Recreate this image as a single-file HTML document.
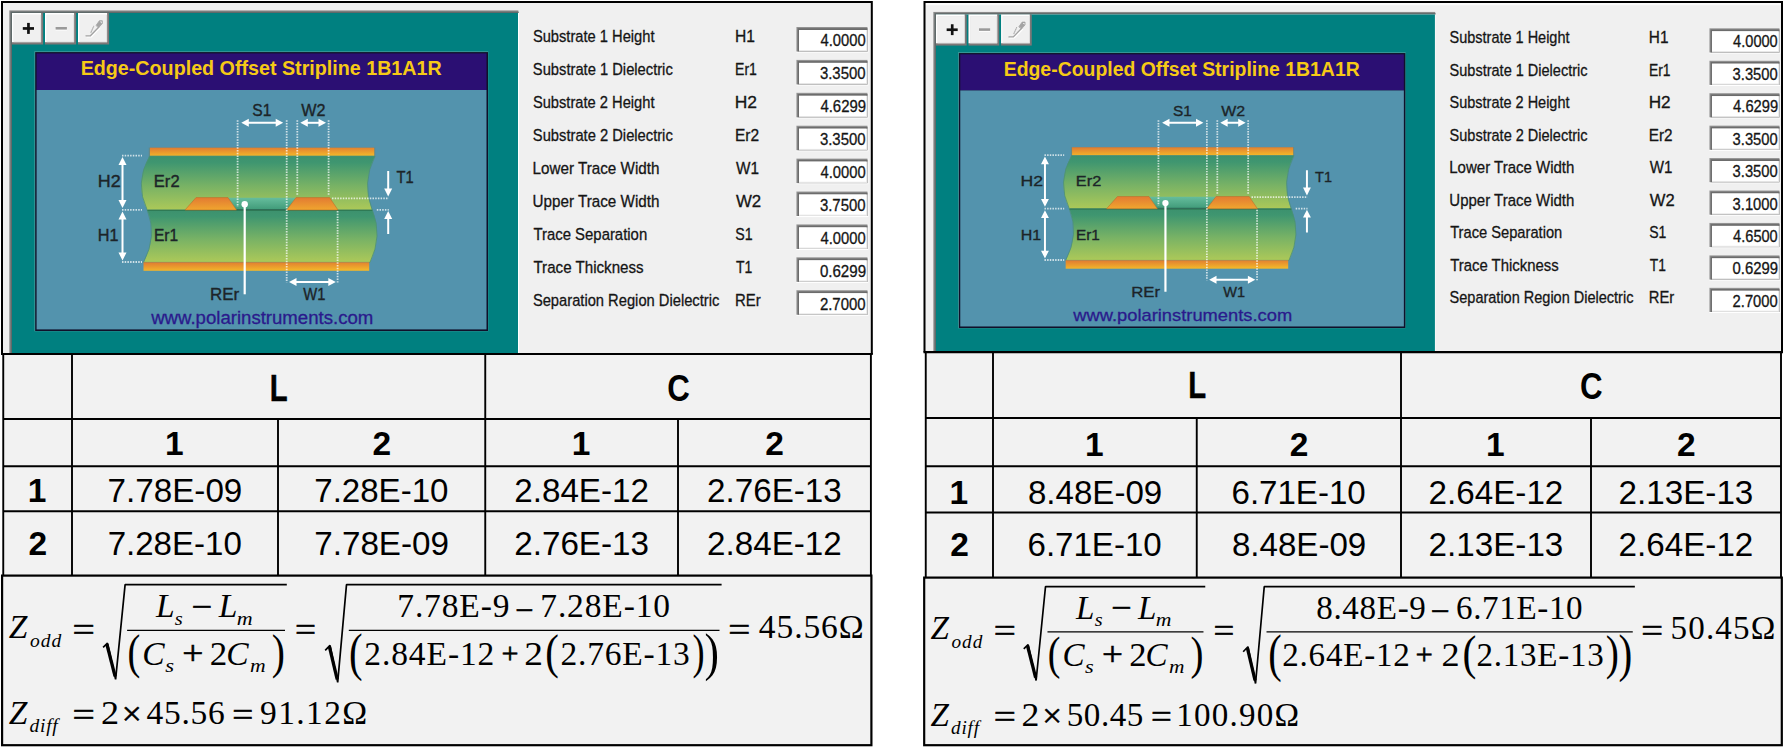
<!DOCTYPE html>
<html><head><meta charset="utf-8"><title>Edge-Coupled Offset Stripline</title>
<style>html,body{margin:0;padding:0;background:#fff}svg{display:block}</style></head><body>
<svg width="1784" height="747" viewBox="0 0 1784 747" font-family="'Liberation Sans', sans-serif">
<rect width="1784" height="747" fill="#fff"/>
<svg x="1" y="1" width="872" height="354" viewBox="1 1 872 354" overflow="hidden">
<rect x="1" y="1" width="872" height="354" fill="#f0f0f0"/>
<rect x="9.3" y="10.4" width="509" height="400" fill="#8a8a8a"/>
<rect x="10.6" y="11.6" width="508" height="400" fill="#5f6a6a"/>
<rect x="12" y="13" width="507" height="400" fill="#ffffff"/>
<rect x="12" y="13" width="506" height="400" fill="#008080"/>
<rect x="12" y="13" width="31.1" height="31.5" fill="#7d7777"/>
<rect x="12" y="13" width="29.1" height="29.2" fill="#ffffff"/>
<rect x="13.7" y="14.8" width="27.4" height="27.4" fill="#d9d9d9"/>
<rect x="13.7" y="14.8" width="26.7" height="26.8" fill="#f0f0f0"/>
<rect x="45" y="13" width="31.1" height="31.5" fill="#7d7777"/>
<rect x="45" y="13" width="29.1" height="29.2" fill="#ffffff"/>
<rect x="46.7" y="14.8" width="27.4" height="27.4" fill="#d9d9d9"/>
<rect x="46.7" y="14.8" width="26.7" height="26.8" fill="#f0f0f0"/>
<rect x="78" y="13" width="31.1" height="31.5" fill="#7d7777"/>
<rect x="78" y="13" width="29.1" height="29.2" fill="#ffffff"/>
<rect x="79.7" y="14.8" width="27.4" height="27.4" fill="#d9d9d9"/>
<rect x="79.7" y="14.8" width="26.7" height="26.8" fill="#f0f0f0"/>
<rect x="22.8" y="27.1" width="11.2" height="2.7" fill="#111"/>
<rect x="27.1" y="22.9" width="2.7" height="11" fill="#111"/>
<rect x="55.6" y="27.9" width="11.3" height="2.6" fill="#ffffff"/>
<rect x="55.6" y="27" width="11.3" height="2.6" fill="#9a9a9a"/>
<g fill="none" stroke-linecap="round"><path d="M86.9 36.8H91.3L99.8 28" stroke="#fff" stroke-width="1.3"/><path d="M86 35.8H90.4L98.9 27" stroke="#a2a2a2" stroke-width="1.3"/><path d="M91 32.4L93.7 26.3" stroke="#a8a8a8" stroke-width="1.1" stroke-dasharray="0.9 1.3"/><path d="M96.2 25.2L99.4 20.7H102.3V23.6L98.8 27.4Z" fill="#a4a4a4" stroke="#a4a4a4" stroke-width="0.8"/><path d="M100 21.6H101.7V23.4Z" fill="#fff" stroke="none"/></g>
<rect x="34.3" y="51.2" width="454" height="280.1" fill="#3f9a9a"/>
<rect x="35.2" y="52.1" width="452.8" height="278.9" fill="#10102a"/>
<rect x="36.6" y="53.4" width="449.9" height="36.6" fill="#2b0f73"/>
<rect x="36.6" y="90" width="449.9" height="239.4" fill="#5393ad"/>
<text x="80.67" y="75.00" font-size="20.2" fill="#f6ca16" font-weight="bold" textLength="361.06" lengthAdjust="spacingAndGlyphs">Edge-Coupled Offset Stripline 1B1A1R</text>
<defs>
<linearGradient id="cua" x1="0" y1="0" x2="0.15" y2="1"><stop offset="0" stop-color="#e07a32"/><stop offset="1" stop-color="#f2b52a"/></linearGradient>
<linearGradient id="tra" x1="0" y1="0" x2="0" y2="1"><stop offset="0" stop-color="#e27a33"/><stop offset="1" stop-color="#f0a62e"/></linearGradient>
<linearGradient id="gra" x1="0" y1="0" x2="0" y2="1"><stop offset="0" stop-color="#3c916e"/><stop offset="0.12" stop-color="#3f9670"/><stop offset="0.55" stop-color="#78b265"/><stop offset="1" stop-color="#adc958"/></linearGradient>
<linearGradient id="rea" x1="0" y1="0" x2="0" y2="1"><stop offset="0" stop-color="#66bd9d"/><stop offset="1" stop-color="#3f9a78"/></linearGradient>
</defs>
<rect x="148.8" y="147.6" width="226.4" height="10" fill="#7d7f60" opacity="0.55"/>
<rect x="150" y="147.7" width="224.2" height="8.5" fill="url(#cua)"/>
<path d="M149.5 156.1 L375 156.1 Q361.5 183 372.3 210.3 L147.3 210.3 Q134.2 183 149.5 156.1Z" fill="url(#gra)" stroke="#4d8f78" stroke-width="0.8"/>
<path d="M147.3 210.3 L372.5 210.3 Q382.8 236 370 262.4 L143.5 262.4 Q157.5 236 147.3 210.3Z" fill="url(#gra)" stroke="#4d8f78" stroke-width="0.8"/>
<line x1="147.5" y1="210.3" x2="372.3" y2="210.3" stroke="#2f7a55" stroke-width="1.2"/>
<path d="M227 197.8 L297 197.8 L286.7 210 L236.3 210Z" fill="url(#rea)"/>
<line x1="236" y1="209.6" x2="287" y2="209.6" stroke="#2f6f58" stroke-width="1.2"/>
<path d="M185 210 L196 197.6 L228 197.6 L236.5 210Z" fill="url(#tra)" stroke="#b9702c" stroke-width="0.6"/>
<path d="M286.6 210 L296 197.6 L329.6 197.6 L338 210Z" fill="url(#tra)" stroke="#b9702c" stroke-width="0.6"/>
<rect x="143.5" y="262.3" width="225.7" height="8.5" fill="url(#cua)"/>
<line x1="237.6" y1="120.3" x2="237.6" y2="207" stroke="#fff" stroke-width="1.8" stroke-dasharray="1.5 1.2" opacity="0.72"/>
<line x1="286.7" y1="120.3" x2="286.7" y2="282.5" stroke="#fff" stroke-width="1.8" stroke-dasharray="1.5 1.2" opacity="0.72"/>
<line x1="297.3" y1="120.3" x2="297.3" y2="195.5" stroke="#fff" stroke-width="1.8" stroke-dasharray="1.5 1.2" opacity="0.72"/>
<line x1="328.6" y1="120.3" x2="328.6" y2="195.5" stroke="#fff" stroke-width="1.8" stroke-dasharray="1.5 1.2" opacity="0.72"/>
<line x1="337.6" y1="211" x2="337.6" y2="282.5" stroke="#fff" stroke-width="1.8" stroke-dasharray="1.5 1.2" opacity="0.72"/>
<line x1="122" y1="155.7" x2="142" y2="155.7" stroke="#fff" stroke-width="1.8" stroke-dasharray="1.5 1.2" opacity="0.72"/>
<line x1="122" y1="209.8" x2="142" y2="209.8" stroke="#fff" stroke-width="1.8" stroke-dasharray="1.5 1.2" opacity="0.72"/>
<line x1="122" y1="262" x2="142" y2="262" stroke="#fff" stroke-width="1.8" stroke-dasharray="1.5 1.2" opacity="0.72"/>
<line x1="332" y1="198.3" x2="388.8" y2="198.3" stroke="#fff" stroke-width="1.8" stroke-dasharray="1.5 1.2" opacity="0.72"/>
<line x1="376.8" y1="209.8" x2="388.8" y2="209.8" stroke="#fff" stroke-width="1.8" stroke-dasharray="1.5 1.2" opacity="0.72"/>
<line x1="245.3" y1="122.8" x2="279.2" y2="122.8" stroke="#fff" stroke-width="2"/>
<path d="M241.3 122.8 l7.5 -4 v8z M283.2 122.8 l-7.5 -4 v8z" fill="#fff"/>
<line x1="304.3" y1="122.8" x2="322" y2="122.8" stroke="#fff" stroke-width="2"/>
<path d="M300.3 122.8 l7.5 -4 v8z M326 122.8 l-7.5 -4 v8z" fill="#fff"/>
<line x1="293" y1="282" x2="331.8" y2="282" stroke="#fff" stroke-width="2"/>
<path d="M289 282 l7.5 -4 v8z M335.8 282 l-7.5 -4 v8z" fill="#fff"/>
<line x1="122.5" y1="161" x2="122.5" y2="204" stroke="#fff" stroke-width="2"/>
<path d="M122.5 157 l-4 8 h8z M122.5 208 l-4 -8 h8z" fill="#fff"/>
<line x1="122.5" y1="215.5" x2="122.5" y2="256.5" stroke="#fff" stroke-width="2"/>
<path d="M122.5 211.5 l-4 8 h8z M122.5 260.5 l-4 -8 h8z" fill="#fff"/>
<line x1="388.2" y1="171" x2="388.2" y2="192.5" stroke="#fff" stroke-width="2"/>
<path d="M388.2 196.5 l-4 -8 h8z" fill="#fff"/>
<line x1="388.2" y1="215" x2="388.2" y2="234" stroke="#fff" stroke-width="2"/>
<path d="M388.2 211 l-4 8 h8z " fill="#fff"/>
<line x1="244.7" y1="204" x2="244.7" y2="294.3" stroke="#fff" stroke-width="2.2"/>
<circle cx="244.7" cy="204.3" r="3.2" fill="#fff"/>
<text x="252.28" y="116.30" font-size="15.7" fill="#1c2428" textLength="19.08" lengthAdjust="spacingAndGlyphs" stroke="#1c2428" stroke-width="0.35">S1</text>
<text x="301.28" y="116.30" font-size="15.7" fill="#1c2428" textLength="24.21" lengthAdjust="spacingAndGlyphs" stroke="#1c2428" stroke-width="0.35">W2</text>
<text x="97.72" y="187.20" font-size="15.7" fill="#1c2428" textLength="22.89" lengthAdjust="spacingAndGlyphs" stroke="#1c2428" stroke-width="0.35">H2</text>
<text x="153.83" y="187.20" font-size="15.7" fill="#1c2428" textLength="25.76" lengthAdjust="spacingAndGlyphs" stroke="#1c2428" stroke-width="0.35">Er2</text>
<text x="97.86" y="241.40" font-size="15.7" fill="#1c2428" textLength="20.74" lengthAdjust="spacingAndGlyphs" stroke="#1c2428" stroke-width="0.35">H1</text>
<text x="153.91" y="241.40" font-size="15.7" fill="#1c2428" textLength="24.22" lengthAdjust="spacingAndGlyphs" stroke="#1c2428" stroke-width="0.35">Er1</text>
<text x="396.45" y="183.20" font-size="15.7" fill="#1c2428" textLength="17.16" lengthAdjust="spacingAndGlyphs" stroke="#1c2428" stroke-width="0.35">T1</text>
<text x="210.00" y="299.70" font-size="15.7" fill="#1c2428" textLength="29.16" lengthAdjust="spacingAndGlyphs" stroke="#1c2428" stroke-width="0.35">REr</text>
<text x="303.30" y="299.70" font-size="15.7" fill="#1c2428" textLength="22.10" lengthAdjust="spacingAndGlyphs" stroke="#1c2428" stroke-width="0.35">W1</text>
<text x="151.18" y="324.20" font-size="17.6" fill="#2a1a8c" textLength="222.10" lengthAdjust="spacingAndGlyphs" stroke="#2a1a8c" stroke-width="0.3">www.polarinstruments.com</text>
<text x="532.88" y="42.40" font-size="16.8" fill="#151515" textLength="121.60" lengthAdjust="spacingAndGlyphs" stroke="#151515" stroke-width="0.3">Substrate 1 Height</text>
<text x="734.91" y="42.40" font-size="16.8" fill="#151515" textLength="19.97" lengthAdjust="spacingAndGlyphs" stroke="#151515" stroke-width="0.3">H1</text>
<rect x="796.4" y="27.0" width="72" height="25.6" fill="#ffffff"/>
<rect x="796.4" y="27.0" width="71.1" height="24.5" fill="#929292"/>
<rect x="797.6" y="28.2" width="69.9" height="23.3" fill="#6c6c6c"/>
<rect x="799" y="30.0" width="68.5" height="21.5" fill="#e4e4e4"/>
<rect x="799" y="30.0" width="67.3" height="20.2" fill="#ffffff"/>
<text x="820.45" y="46.30" font-size="16.4" fill="#151515" textLength="45.21" lengthAdjust="spacingAndGlyphs" stroke="#151515" stroke-width="0.3">4.0000</text>
<text x="532.87" y="75.30" font-size="16.8" fill="#151515" textLength="139.90" lengthAdjust="spacingAndGlyphs" stroke="#151515" stroke-width="0.3">Substrate 1 Dielectric</text>
<text x="735.04" y="75.30" font-size="16.8" fill="#151515" textLength="21.91" lengthAdjust="spacingAndGlyphs" stroke="#151515" stroke-width="0.3">Er1</text>
<rect x="796.4" y="59.9" width="72" height="25.6" fill="#ffffff"/>
<rect x="796.4" y="59.9" width="71.1" height="24.5" fill="#929292"/>
<rect x="797.6" y="61.1" width="69.9" height="23.3" fill="#6c6c6c"/>
<rect x="799" y="62.9" width="68.5" height="21.5" fill="#e4e4e4"/>
<rect x="799" y="62.9" width="67.3" height="20.2" fill="#ffffff"/>
<text x="819.89" y="79.20" font-size="16.4" fill="#151515" textLength="45.78" lengthAdjust="spacingAndGlyphs" stroke="#151515" stroke-width="0.3">3.3500</text>
<text x="532.88" y="108.20" font-size="16.8" fill="#151515" textLength="121.60" lengthAdjust="spacingAndGlyphs" stroke="#151515" stroke-width="0.3">Substrate 2 Height</text>
<text x="734.76" y="108.20" font-size="16.8" fill="#151515" textLength="22.26" lengthAdjust="spacingAndGlyphs" stroke="#151515" stroke-width="0.3">H2</text>
<rect x="796.4" y="92.8" width="72" height="25.6" fill="#ffffff"/>
<rect x="796.4" y="92.8" width="71.1" height="24.5" fill="#929292"/>
<rect x="797.6" y="94.0" width="69.9" height="23.3" fill="#6c6c6c"/>
<rect x="799" y="95.8" width="68.5" height="21.5" fill="#e4e4e4"/>
<rect x="799" y="95.8" width="67.3" height="20.2" fill="#ffffff"/>
<text x="820.45" y="112.10" font-size="16.4" fill="#151515" textLength="45.59" lengthAdjust="spacingAndGlyphs" stroke="#151515" stroke-width="0.3">4.6299</text>
<text x="532.87" y="141.10" font-size="16.8" fill="#151515" textLength="139.90" lengthAdjust="spacingAndGlyphs" stroke="#151515" stroke-width="0.3">Substrate 2 Dielectric</text>
<text x="734.92" y="141.10" font-size="16.8" fill="#151515" textLength="24.12" lengthAdjust="spacingAndGlyphs" stroke="#151515" stroke-width="0.3">Er2</text>
<rect x="796.4" y="125.69999999999999" width="72" height="25.6" fill="#ffffff"/>
<rect x="796.4" y="125.69999999999999" width="71.1" height="24.5" fill="#929292"/>
<rect x="797.6" y="126.89999999999999" width="69.9" height="23.3" fill="#6c6c6c"/>
<rect x="799" y="128.7" width="68.5" height="21.5" fill="#e4e4e4"/>
<rect x="799" y="128.7" width="67.3" height="20.2" fill="#ffffff"/>
<text x="819.89" y="145.00" font-size="16.4" fill="#151515" textLength="45.78" lengthAdjust="spacingAndGlyphs" stroke="#151515" stroke-width="0.3">3.3500</text>
<text x="532.54" y="174.00" font-size="16.8" fill="#151515" textLength="126.92" lengthAdjust="spacingAndGlyphs" stroke="#151515" stroke-width="0.3">Lower Trace Width</text>
<text x="735.98" y="174.00" font-size="16.8" fill="#151515" textLength="22.99" lengthAdjust="spacingAndGlyphs" stroke="#151515" stroke-width="0.3">W1</text>
<rect x="796.4" y="158.6" width="72" height="25.6" fill="#ffffff"/>
<rect x="796.4" y="158.6" width="71.1" height="24.5" fill="#929292"/>
<rect x="797.6" y="159.79999999999998" width="69.9" height="23.3" fill="#6c6c6c"/>
<rect x="799" y="161.6" width="68.5" height="21.5" fill="#e4e4e4"/>
<rect x="799" y="161.6" width="67.3" height="20.2" fill="#ffffff"/>
<text x="820.45" y="177.90" font-size="16.4" fill="#151515" textLength="45.21" lengthAdjust="spacingAndGlyphs" stroke="#151515" stroke-width="0.3">4.0000</text>
<text x="532.61" y="206.90" font-size="16.8" fill="#151515" textLength="126.85" lengthAdjust="spacingAndGlyphs" stroke="#151515" stroke-width="0.3">Upper Trace Width</text>
<text x="735.96" y="206.90" font-size="16.8" fill="#151515" textLength="25.22" lengthAdjust="spacingAndGlyphs" stroke="#151515" stroke-width="0.3">W2</text>
<rect x="796.4" y="191.5" width="72" height="25.6" fill="#ffffff"/>
<rect x="796.4" y="191.5" width="71.1" height="24.5" fill="#929292"/>
<rect x="797.6" y="192.7" width="69.9" height="23.3" fill="#6c6c6c"/>
<rect x="799" y="194.5" width="68.5" height="21.5" fill="#e4e4e4"/>
<rect x="799" y="194.5" width="67.3" height="20.2" fill="#ffffff"/>
<text x="819.89" y="210.80" font-size="16.4" fill="#151515" textLength="45.78" lengthAdjust="spacingAndGlyphs" stroke="#151515" stroke-width="0.3">3.7500</text>
<text x="533.46" y="239.80" font-size="16.8" fill="#151515" textLength="113.73" lengthAdjust="spacingAndGlyphs" stroke="#151515" stroke-width="0.3">Trace Separation</text>
<text x="735.31" y="239.80" font-size="16.8" fill="#151515" textLength="17.36" lengthAdjust="spacingAndGlyphs" stroke="#151515" stroke-width="0.3">S1</text>
<rect x="796.4" y="224.39999999999998" width="72" height="25.6" fill="#ffffff"/>
<rect x="796.4" y="224.39999999999998" width="71.1" height="24.5" fill="#929292"/>
<rect x="797.6" y="225.59999999999997" width="69.9" height="23.3" fill="#6c6c6c"/>
<rect x="799" y="227.39999999999998" width="68.5" height="21.5" fill="#e4e4e4"/>
<rect x="799" y="227.39999999999998" width="67.3" height="20.2" fill="#ffffff"/>
<text x="820.45" y="243.70" font-size="16.4" fill="#151515" textLength="45.21" lengthAdjust="spacingAndGlyphs" stroke="#151515" stroke-width="0.3">4.0000</text>
<text x="533.45" y="272.70" font-size="16.8" fill="#151515" textLength="110.18" lengthAdjust="spacingAndGlyphs" stroke="#151515" stroke-width="0.3">Trace Thickness</text>
<text x="735.88" y="272.70" font-size="16.8" fill="#151515" textLength="16.33" lengthAdjust="spacingAndGlyphs" stroke="#151515" stroke-width="0.3">T1</text>
<rect x="796.4" y="257.29999999999995" width="72" height="25.6" fill="#ffffff"/>
<rect x="796.4" y="257.29999999999995" width="71.1" height="24.5" fill="#929292"/>
<rect x="797.6" y="258.49999999999994" width="69.9" height="23.3" fill="#6c6c6c"/>
<rect x="799" y="260.29999999999995" width="68.5" height="21.5" fill="#e4e4e4"/>
<rect x="799" y="260.29999999999995" width="67.3" height="20.2" fill="#ffffff"/>
<text x="819.88" y="276.60" font-size="16.4" fill="#151515" textLength="46.17" lengthAdjust="spacingAndGlyphs" stroke="#151515" stroke-width="0.3">0.6299</text>
<text x="532.88" y="305.60" font-size="16.8" fill="#151515" textLength="186.46" lengthAdjust="spacingAndGlyphs" stroke="#151515" stroke-width="0.3">Separation Region Dielectric</text>
<text x="734.96" y="305.60" font-size="16.8" fill="#151515" textLength="25.75" lengthAdjust="spacingAndGlyphs" stroke="#151515" stroke-width="0.3">REr</text>
<rect x="796.4" y="290.2" width="72" height="25.6" fill="#ffffff"/>
<rect x="796.4" y="290.2" width="71.1" height="24.5" fill="#929292"/>
<rect x="797.6" y="291.4" width="69.9" height="23.3" fill="#6c6c6c"/>
<rect x="799" y="293.2" width="68.5" height="21.5" fill="#e4e4e4"/>
<rect x="799" y="293.2" width="67.3" height="20.2" fill="#ffffff"/>
<text x="819.89" y="309.50" font-size="16.4" fill="#151515" textLength="45.78" lengthAdjust="spacingAndGlyphs" stroke="#151515" stroke-width="0.3">2.7000</text>
</svg>
<svg x="923.5" y="1" width="859.5" height="351.5" viewBox="923.5 1 859.5 351.5" overflow="hidden">
<rect x="923.5" y="1" width="860" height="352" fill="#f0f0f0"/>
<rect x="923.5" y="1" width="860" height="4.2" fill="#fbfbfb"/>
<g transform="translate(924.17,1.68) scale(0.986)">
<rect x="9.3" y="10.4" width="509" height="400" fill="#8a8a8a"/>
<rect x="10.6" y="11.6" width="508" height="400" fill="#5f6a6a"/>
<rect x="12" y="13" width="507" height="400" fill="#ffffff"/>
<rect x="12" y="13" width="506" height="400" fill="#008080"/>
<rect x="12" y="13" width="31.1" height="31.5" fill="#7d7777"/>
<rect x="12" y="13" width="29.1" height="29.2" fill="#ffffff"/>
<rect x="13.7" y="14.8" width="27.4" height="27.4" fill="#d9d9d9"/>
<rect x="13.7" y="14.8" width="26.7" height="26.8" fill="#f0f0f0"/>
<rect x="45" y="13" width="31.1" height="31.5" fill="#7d7777"/>
<rect x="45" y="13" width="29.1" height="29.2" fill="#ffffff"/>
<rect x="46.7" y="14.8" width="27.4" height="27.4" fill="#d9d9d9"/>
<rect x="46.7" y="14.8" width="26.7" height="26.8" fill="#f0f0f0"/>
<rect x="78" y="13" width="31.1" height="31.5" fill="#7d7777"/>
<rect x="78" y="13" width="29.1" height="29.2" fill="#ffffff"/>
<rect x="79.7" y="14.8" width="27.4" height="27.4" fill="#d9d9d9"/>
<rect x="79.7" y="14.8" width="26.7" height="26.8" fill="#f0f0f0"/>
<rect x="22.8" y="27.1" width="11.2" height="2.7" fill="#111"/>
<rect x="27.1" y="22.9" width="2.7" height="11" fill="#111"/>
<rect x="55.6" y="27.9" width="11.3" height="2.6" fill="#ffffff"/>
<rect x="55.6" y="27" width="11.3" height="2.6" fill="#9a9a9a"/>
<g fill="none" stroke-linecap="round"><path d="M86.9 36.8H91.3L99.8 28" stroke="#fff" stroke-width="1.3"/><path d="M86 35.8H90.4L98.9 27" stroke="#a2a2a2" stroke-width="1.3"/><path d="M91 32.4L93.7 26.3" stroke="#a8a8a8" stroke-width="1.1" stroke-dasharray="0.9 1.3"/><path d="M96.2 25.2L99.4 20.7H102.3V23.6L98.8 27.4Z" fill="#a4a4a4" stroke="#a4a4a4" stroke-width="0.8"/><path d="M100 21.6H101.7V23.4Z" fill="#fff" stroke="none"/></g>
<rect x="34.3" y="51.2" width="454" height="280.1" fill="#3f9a9a"/>
<rect x="35.2" y="52.1" width="452.8" height="278.9" fill="#10102a"/>
<rect x="36.6" y="53.4" width="449.9" height="36.6" fill="#2b0f73"/>
<rect x="36.6" y="90" width="449.9" height="239.4" fill="#5393ad"/>
<text x="80.67" y="75.00" font-size="20.2" fill="#f6ca16" font-weight="bold" textLength="361.06" lengthAdjust="spacingAndGlyphs">Edge-Coupled Offset Stripline 1B1A1R</text>
<defs>
<linearGradient id="cub" x1="0" y1="0" x2="0.15" y2="1"><stop offset="0" stop-color="#e07a32"/><stop offset="1" stop-color="#f2b52a"/></linearGradient>
<linearGradient id="trb" x1="0" y1="0" x2="0" y2="1"><stop offset="0" stop-color="#e27a33"/><stop offset="1" stop-color="#f0a62e"/></linearGradient>
<linearGradient id="grb" x1="0" y1="0" x2="0" y2="1"><stop offset="0" stop-color="#3c916e"/><stop offset="0.12" stop-color="#3f9670"/><stop offset="0.55" stop-color="#78b265"/><stop offset="1" stop-color="#adc958"/></linearGradient>
<linearGradient id="reb" x1="0" y1="0" x2="0" y2="1"><stop offset="0" stop-color="#66bd9d"/><stop offset="1" stop-color="#3f9a78"/></linearGradient>
</defs>
<rect x="148.8" y="147.6" width="226.4" height="10" fill="#7d7f60" opacity="0.55"/>
<rect x="150" y="147.7" width="224.2" height="8.5" fill="url(#cub)"/>
<path d="M149.5 156.1 L375 156.1 Q361.5 183 372.3 210.3 L147.3 210.3 Q134.2 183 149.5 156.1Z" fill="url(#grb)" stroke="#4d8f78" stroke-width="0.8"/>
<path d="M147.3 210.3 L372.5 210.3 Q382.8 236 370 262.4 L143.5 262.4 Q157.5 236 147.3 210.3Z" fill="url(#grb)" stroke="#4d8f78" stroke-width="0.8"/>
<line x1="147.5" y1="210.3" x2="372.3" y2="210.3" stroke="#2f7a55" stroke-width="1.2"/>
<path d="M227 197.8 L297 197.8 L286.7 210 L236.3 210Z" fill="url(#reb)"/>
<line x1="236" y1="209.6" x2="287" y2="209.6" stroke="#2f6f58" stroke-width="1.2"/>
<path d="M185 210 L196 197.6 L228 197.6 L236.5 210Z" fill="url(#trb)" stroke="#b9702c" stroke-width="0.6"/>
<path d="M286.6 210 L296 197.6 L329.6 197.6 L338 210Z" fill="url(#trb)" stroke="#b9702c" stroke-width="0.6"/>
<rect x="143.5" y="262.3" width="225.7" height="8.5" fill="url(#cub)"/>
<line x1="237.6" y1="120.3" x2="237.6" y2="207" stroke="#fff" stroke-width="1.8" stroke-dasharray="1.5 1.2" opacity="0.72"/>
<line x1="286.7" y1="120.3" x2="286.7" y2="282.5" stroke="#fff" stroke-width="1.8" stroke-dasharray="1.5 1.2" opacity="0.72"/>
<line x1="297.3" y1="120.3" x2="297.3" y2="195.5" stroke="#fff" stroke-width="1.8" stroke-dasharray="1.5 1.2" opacity="0.72"/>
<line x1="328.6" y1="120.3" x2="328.6" y2="195.5" stroke="#fff" stroke-width="1.8" stroke-dasharray="1.5 1.2" opacity="0.72"/>
<line x1="337.6" y1="211" x2="337.6" y2="282.5" stroke="#fff" stroke-width="1.8" stroke-dasharray="1.5 1.2" opacity="0.72"/>
<line x1="122" y1="155.7" x2="142" y2="155.7" stroke="#fff" stroke-width="1.8" stroke-dasharray="1.5 1.2" opacity="0.72"/>
<line x1="122" y1="209.8" x2="142" y2="209.8" stroke="#fff" stroke-width="1.8" stroke-dasharray="1.5 1.2" opacity="0.72"/>
<line x1="122" y1="262" x2="142" y2="262" stroke="#fff" stroke-width="1.8" stroke-dasharray="1.5 1.2" opacity="0.72"/>
<line x1="332" y1="198.3" x2="388.8" y2="198.3" stroke="#fff" stroke-width="1.8" stroke-dasharray="1.5 1.2" opacity="0.72"/>
<line x1="376.8" y1="209.8" x2="388.8" y2="209.8" stroke="#fff" stroke-width="1.8" stroke-dasharray="1.5 1.2" opacity="0.72"/>
<line x1="245.3" y1="122.8" x2="279.2" y2="122.8" stroke="#fff" stroke-width="2"/>
<path d="M241.3 122.8 l7.5 -4 v8z M283.2 122.8 l-7.5 -4 v8z" fill="#fff"/>
<line x1="304.3" y1="122.8" x2="322" y2="122.8" stroke="#fff" stroke-width="2"/>
<path d="M300.3 122.8 l7.5 -4 v8z M326 122.8 l-7.5 -4 v8z" fill="#fff"/>
<line x1="293" y1="282" x2="331.8" y2="282" stroke="#fff" stroke-width="2"/>
<path d="M289 282 l7.5 -4 v8z M335.8 282 l-7.5 -4 v8z" fill="#fff"/>
<line x1="122.5" y1="161" x2="122.5" y2="204" stroke="#fff" stroke-width="2"/>
<path d="M122.5 157 l-4 8 h8z M122.5 208 l-4 -8 h8z" fill="#fff"/>
<line x1="122.5" y1="215.5" x2="122.5" y2="256.5" stroke="#fff" stroke-width="2"/>
<path d="M122.5 211.5 l-4 8 h8z M122.5 260.5 l-4 -8 h8z" fill="#fff"/>
<line x1="388.2" y1="171" x2="388.2" y2="192.5" stroke="#fff" stroke-width="2"/>
<path d="M388.2 196.5 l-4 -8 h8z" fill="#fff"/>
<line x1="388.2" y1="215" x2="388.2" y2="234" stroke="#fff" stroke-width="2"/>
<path d="M388.2 211 l-4 8 h8z " fill="#fff"/>
<line x1="244.7" y1="204" x2="244.7" y2="294.3" stroke="#fff" stroke-width="2.2"/>
<circle cx="244.7" cy="204.3" r="3.2" fill="#fff"/>
<text x="252.28" y="116.30" font-size="15.7" fill="#1c2428" textLength="19.08" lengthAdjust="spacingAndGlyphs" stroke="#1c2428" stroke-width="0.35">S1</text>
<text x="301.28" y="116.30" font-size="15.7" fill="#1c2428" textLength="24.21" lengthAdjust="spacingAndGlyphs" stroke="#1c2428" stroke-width="0.35">W2</text>
<text x="97.72" y="187.20" font-size="15.7" fill="#1c2428" textLength="22.89" lengthAdjust="spacingAndGlyphs" stroke="#1c2428" stroke-width="0.35">H2</text>
<text x="153.83" y="187.20" font-size="15.7" fill="#1c2428" textLength="25.76" lengthAdjust="spacingAndGlyphs" stroke="#1c2428" stroke-width="0.35">Er2</text>
<text x="97.86" y="241.40" font-size="15.7" fill="#1c2428" textLength="20.74" lengthAdjust="spacingAndGlyphs" stroke="#1c2428" stroke-width="0.35">H1</text>
<text x="153.91" y="241.40" font-size="15.7" fill="#1c2428" textLength="24.22" lengthAdjust="spacingAndGlyphs" stroke="#1c2428" stroke-width="0.35">Er1</text>
<text x="396.45" y="183.20" font-size="15.7" fill="#1c2428" textLength="17.16" lengthAdjust="spacingAndGlyphs" stroke="#1c2428" stroke-width="0.35">T1</text>
<text x="210.00" y="299.70" font-size="15.7" fill="#1c2428" textLength="29.16" lengthAdjust="spacingAndGlyphs" stroke="#1c2428" stroke-width="0.35">REr</text>
<text x="303.30" y="299.70" font-size="15.7" fill="#1c2428" textLength="22.10" lengthAdjust="spacingAndGlyphs" stroke="#1c2428" stroke-width="0.35">W1</text>
<text x="151.18" y="324.20" font-size="17.6" fill="#2a1a8c" textLength="222.10" lengthAdjust="spacingAndGlyphs" stroke="#2a1a8c" stroke-width="0.3">www.polarinstruments.com</text>
<text x="532.88" y="42.40" font-size="16.8" fill="#151515" textLength="121.60" lengthAdjust="spacingAndGlyphs" stroke="#151515" stroke-width="0.3">Substrate 1 Height</text>
<text x="734.91" y="42.40" font-size="16.8" fill="#151515" textLength="19.97" lengthAdjust="spacingAndGlyphs" stroke="#151515" stroke-width="0.3">H1</text>
<rect x="796.4" y="27.0" width="72" height="25.6" fill="#ffffff"/>
<rect x="796.4" y="27.0" width="71.1" height="24.5" fill="#929292"/>
<rect x="797.6" y="28.2" width="69.9" height="23.3" fill="#6c6c6c"/>
<rect x="799" y="30.0" width="68.5" height="21.5" fill="#e4e4e4"/>
<rect x="799" y="30.0" width="67.3" height="20.2" fill="#ffffff"/>
<text x="820.45" y="46.30" font-size="16.4" fill="#151515" textLength="45.21" lengthAdjust="spacingAndGlyphs" stroke="#151515" stroke-width="0.3">4.0000</text>
<text x="532.87" y="75.30" font-size="16.8" fill="#151515" textLength="139.90" lengthAdjust="spacingAndGlyphs" stroke="#151515" stroke-width="0.3">Substrate 1 Dielectric</text>
<text x="735.04" y="75.30" font-size="16.8" fill="#151515" textLength="21.91" lengthAdjust="spacingAndGlyphs" stroke="#151515" stroke-width="0.3">Er1</text>
<rect x="796.4" y="59.9" width="72" height="25.6" fill="#ffffff"/>
<rect x="796.4" y="59.9" width="71.1" height="24.5" fill="#929292"/>
<rect x="797.6" y="61.1" width="69.9" height="23.3" fill="#6c6c6c"/>
<rect x="799" y="62.9" width="68.5" height="21.5" fill="#e4e4e4"/>
<rect x="799" y="62.9" width="67.3" height="20.2" fill="#ffffff"/>
<text x="819.89" y="79.20" font-size="16.4" fill="#151515" textLength="45.78" lengthAdjust="spacingAndGlyphs" stroke="#151515" stroke-width="0.3">3.3500</text>
<text x="532.88" y="108.20" font-size="16.8" fill="#151515" textLength="121.60" lengthAdjust="spacingAndGlyphs" stroke="#151515" stroke-width="0.3">Substrate 2 Height</text>
<text x="734.76" y="108.20" font-size="16.8" fill="#151515" textLength="22.26" lengthAdjust="spacingAndGlyphs" stroke="#151515" stroke-width="0.3">H2</text>
<rect x="796.4" y="92.8" width="72" height="25.6" fill="#ffffff"/>
<rect x="796.4" y="92.8" width="71.1" height="24.5" fill="#929292"/>
<rect x="797.6" y="94.0" width="69.9" height="23.3" fill="#6c6c6c"/>
<rect x="799" y="95.8" width="68.5" height="21.5" fill="#e4e4e4"/>
<rect x="799" y="95.8" width="67.3" height="20.2" fill="#ffffff"/>
<text x="820.45" y="112.10" font-size="16.4" fill="#151515" textLength="45.59" lengthAdjust="spacingAndGlyphs" stroke="#151515" stroke-width="0.3">4.6299</text>
<text x="532.87" y="141.10" font-size="16.8" fill="#151515" textLength="139.90" lengthAdjust="spacingAndGlyphs" stroke="#151515" stroke-width="0.3">Substrate 2 Dielectric</text>
<text x="734.92" y="141.10" font-size="16.8" fill="#151515" textLength="24.12" lengthAdjust="spacingAndGlyphs" stroke="#151515" stroke-width="0.3">Er2</text>
<rect x="796.4" y="125.69999999999999" width="72" height="25.6" fill="#ffffff"/>
<rect x="796.4" y="125.69999999999999" width="71.1" height="24.5" fill="#929292"/>
<rect x="797.6" y="126.89999999999999" width="69.9" height="23.3" fill="#6c6c6c"/>
<rect x="799" y="128.7" width="68.5" height="21.5" fill="#e4e4e4"/>
<rect x="799" y="128.7" width="67.3" height="20.2" fill="#ffffff"/>
<text x="819.89" y="145.00" font-size="16.4" fill="#151515" textLength="45.78" lengthAdjust="spacingAndGlyphs" stroke="#151515" stroke-width="0.3">3.3500</text>
<text x="532.54" y="174.00" font-size="16.8" fill="#151515" textLength="126.92" lengthAdjust="spacingAndGlyphs" stroke="#151515" stroke-width="0.3">Lower Trace Width</text>
<text x="735.98" y="174.00" font-size="16.8" fill="#151515" textLength="22.99" lengthAdjust="spacingAndGlyphs" stroke="#151515" stroke-width="0.3">W1</text>
<rect x="796.4" y="158.6" width="72" height="25.6" fill="#ffffff"/>
<rect x="796.4" y="158.6" width="71.1" height="24.5" fill="#929292"/>
<rect x="797.6" y="159.79999999999998" width="69.9" height="23.3" fill="#6c6c6c"/>
<rect x="799" y="161.6" width="68.5" height="21.5" fill="#e4e4e4"/>
<rect x="799" y="161.6" width="67.3" height="20.2" fill="#ffffff"/>
<text x="819.89" y="177.90" font-size="16.4" fill="#151515" textLength="45.78" lengthAdjust="spacingAndGlyphs" stroke="#151515" stroke-width="0.3">3.3500</text>
<text x="532.61" y="206.90" font-size="16.8" fill="#151515" textLength="126.85" lengthAdjust="spacingAndGlyphs" stroke="#151515" stroke-width="0.3">Upper Trace Width</text>
<text x="735.96" y="206.90" font-size="16.8" fill="#151515" textLength="25.22" lengthAdjust="spacingAndGlyphs" stroke="#151515" stroke-width="0.3">W2</text>
<rect x="796.4" y="191.5" width="72" height="25.6" fill="#ffffff"/>
<rect x="796.4" y="191.5" width="71.1" height="24.5" fill="#929292"/>
<rect x="797.6" y="192.7" width="69.9" height="23.3" fill="#6c6c6c"/>
<rect x="799" y="194.5" width="68.5" height="21.5" fill="#e4e4e4"/>
<rect x="799" y="194.5" width="67.3" height="20.2" fill="#ffffff"/>
<text x="819.89" y="210.80" font-size="16.4" fill="#151515" textLength="45.78" lengthAdjust="spacingAndGlyphs" stroke="#151515" stroke-width="0.3">3.1000</text>
<text x="533.46" y="239.80" font-size="16.8" fill="#151515" textLength="113.73" lengthAdjust="spacingAndGlyphs" stroke="#151515" stroke-width="0.3">Trace Separation</text>
<text x="735.31" y="239.80" font-size="16.8" fill="#151515" textLength="17.36" lengthAdjust="spacingAndGlyphs" stroke="#151515" stroke-width="0.3">S1</text>
<rect x="796.4" y="224.39999999999998" width="72" height="25.6" fill="#ffffff"/>
<rect x="796.4" y="224.39999999999998" width="71.1" height="24.5" fill="#929292"/>
<rect x="797.6" y="225.59999999999997" width="69.9" height="23.3" fill="#6c6c6c"/>
<rect x="799" y="227.39999999999998" width="68.5" height="21.5" fill="#e4e4e4"/>
<rect x="799" y="227.39999999999998" width="67.3" height="20.2" fill="#ffffff"/>
<text x="820.45" y="243.70" font-size="16.4" fill="#151515" textLength="45.21" lengthAdjust="spacingAndGlyphs" stroke="#151515" stroke-width="0.3">4.6500</text>
<text x="533.45" y="272.70" font-size="16.8" fill="#151515" textLength="110.18" lengthAdjust="spacingAndGlyphs" stroke="#151515" stroke-width="0.3">Trace Thickness</text>
<text x="735.88" y="272.70" font-size="16.8" fill="#151515" textLength="16.33" lengthAdjust="spacingAndGlyphs" stroke="#151515" stroke-width="0.3">T1</text>
<rect x="796.4" y="257.29999999999995" width="72" height="25.6" fill="#ffffff"/>
<rect x="796.4" y="257.29999999999995" width="71.1" height="24.5" fill="#929292"/>
<rect x="797.6" y="258.49999999999994" width="69.9" height="23.3" fill="#6c6c6c"/>
<rect x="799" y="260.29999999999995" width="68.5" height="21.5" fill="#e4e4e4"/>
<rect x="799" y="260.29999999999995" width="67.3" height="20.2" fill="#ffffff"/>
<text x="819.88" y="276.60" font-size="16.4" fill="#151515" textLength="46.17" lengthAdjust="spacingAndGlyphs" stroke="#151515" stroke-width="0.3">0.6299</text>
<text x="532.88" y="305.60" font-size="16.8" fill="#151515" textLength="186.46" lengthAdjust="spacingAndGlyphs" stroke="#151515" stroke-width="0.3">Separation Region Dielectric</text>
<text x="734.96" y="305.60" font-size="16.8" fill="#151515" textLength="25.75" lengthAdjust="spacingAndGlyphs" stroke="#151515" stroke-width="0.3">REr</text>
<rect x="796.4" y="290.2" width="72" height="25.6" fill="#ffffff"/>
<rect x="796.4" y="290.2" width="71.1" height="24.5" fill="#929292"/>
<rect x="797.6" y="291.4" width="69.9" height="23.3" fill="#6c6c6c"/>
<rect x="799" y="293.2" width="68.5" height="21.5" fill="#e4e4e4"/>
<rect x="799" y="293.2" width="67.3" height="20.2" fill="#ffffff"/>
<text x="819.89" y="309.50" font-size="16.4" fill="#151515" textLength="45.78" lengthAdjust="spacingAndGlyphs" stroke="#151515" stroke-width="0.3">2.7000</text>
</g></svg>
<rect x="3.25" y="354" width="867.65" height="391.20000000000005" fill="#f2f2f2"/>
<path d="M2 354 V2 H871.8 V354" fill="none" stroke="#000" stroke-width="2"/>
<line x1="1" y1="354" x2="872.8" y2="354" stroke="#000" stroke-width="2.2"/>
<line x1="3.25" y1="419" x2="870.9" y2="419" stroke="#000" stroke-width="1.9"/>
<line x1="3.25" y1="466.3" x2="870.9" y2="466.3" stroke="#000" stroke-width="1.9"/>
<line x1="3.25" y1="511.3" x2="870.9" y2="511.3" stroke="#000" stroke-width="1.9"/>
<line x1="3.25" y1="354" x2="3.25" y2="575.6" stroke="#000" stroke-width="1.9"/>
<line x1="870.9" y1="354" x2="870.9" y2="575.6" stroke="#000" stroke-width="1.9"/>
<line x1="72" y1="354" x2="72" y2="575.6" stroke="#000" stroke-width="1.9"/>
<line x1="485.25" y1="354" x2="485.25" y2="575.6" stroke="#000" stroke-width="1.9"/>
<line x1="278" y1="419" x2="278" y2="575.6" stroke="#000" stroke-width="1.9"/>
<line x1="678" y1="419" x2="678" y2="575.6" stroke="#000" stroke-width="1.9"/>
<rect x="2.1" y="575.6" width="869.3" height="169.60000000000002" fill="none" stroke="#000" stroke-width="2.2"/>
<rect x="925.75" y="352.2" width="855.25" height="393.00000000000006" fill="#f2f2f2"/>
<path d="M924.5 352.2 V2 H1782 V352.2" fill="none" stroke="#000" stroke-width="2"/>
<line x1="923.5" y1="352.2" x2="1783" y2="352.2" stroke="#000" stroke-width="2.2"/>
<line x1="925.75" y1="418" x2="1781" y2="418" stroke="#000" stroke-width="1.9"/>
<line x1="925.75" y1="466.3" x2="1781" y2="466.3" stroke="#000" stroke-width="1.9"/>
<line x1="925.75" y1="512.5" x2="1781" y2="512.5" stroke="#000" stroke-width="1.9"/>
<line x1="925.75" y1="352.2" x2="925.75" y2="577.6" stroke="#000" stroke-width="1.9"/>
<line x1="1781" y1="352.2" x2="1781" y2="577.6" stroke="#000" stroke-width="1.9"/>
<line x1="993" y1="352.2" x2="993" y2="577.6" stroke="#000" stroke-width="1.9"/>
<line x1="1401" y1="352.2" x2="1401" y2="577.6" stroke="#000" stroke-width="1.9"/>
<line x1="1196.75" y1="418" x2="1196.75" y2="577.6" stroke="#000" stroke-width="1.9"/>
<line x1="1591" y1="418" x2="1591" y2="577.6" stroke="#000" stroke-width="1.9"/>
<rect x="924.2" y="577.6" width="857.5999999999999" height="167.60000000000002" fill="none" stroke="#000" stroke-width="2.2"/>
<text x="269.87" y="401.00" font-size="37" fill="#000" font-weight="bold" textLength="17.86" lengthAdjust="spacingAndGlyphs" stroke="#000" stroke-width="0.5">L</text>
<text x="667.16" y="401.30" font-size="36.5" fill="#000" font-weight="bold" textLength="22.59" lengthAdjust="spacingAndGlyphs">C</text>
<text x="165.09" y="455.30" font-size="33.5" fill="#000" font-weight="bold">1</text>
<text x="372.54" y="455.30" font-size="33.5" fill="#000" font-weight="bold">2</text>
<text x="571.72" y="455.30" font-size="33.5" fill="#000" font-weight="bold">1</text>
<text x="765.36" y="455.30" font-size="33.5" fill="#000" font-weight="bold">2</text>
<text x="27.72" y="502.20" font-size="33.5" fill="#000" font-weight="bold">1</text>
<text x="107.62" y="502.20" font-size="33.5" fill="#000" textLength="134.73" lengthAdjust="spacingAndGlyphs">7.78E-09</text>
<text x="314.25" y="502.20" font-size="33.5" fill="#000" textLength="134.18" lengthAdjust="spacingAndGlyphs">7.28E-10</text>
<text x="514.24" y="502.20" font-size="33.5" fill="#000" textLength="134.73" lengthAdjust="spacingAndGlyphs">2.84E-12</text>
<text x="707.07" y="502.20" font-size="33.5" fill="#000" textLength="134.73" lengthAdjust="spacingAndGlyphs">2.76E-13</text>
<text x="28.54" y="555.20" font-size="33.5" fill="#000" font-weight="bold">2</text>
<text x="107.63" y="555.20" font-size="33.5" fill="#000" textLength="134.18" lengthAdjust="spacingAndGlyphs">7.28E-10</text>
<text x="314.24" y="555.20" font-size="33.5" fill="#000" textLength="134.73" lengthAdjust="spacingAndGlyphs">7.78E-09</text>
<text x="514.24" y="555.20" font-size="33.5" fill="#000" textLength="134.73" lengthAdjust="spacingAndGlyphs">2.76E-13</text>
<text x="707.07" y="555.20" font-size="33.5" fill="#000" textLength="134.73" lengthAdjust="spacingAndGlyphs">2.84E-12</text>
<text x="1188.24" y="398.20" font-size="37" fill="#000" font-weight="bold" textLength="17.86" lengthAdjust="spacingAndGlyphs" stroke="#000" stroke-width="0.5">L</text>
<text x="1580.09" y="398.50" font-size="36.5" fill="#000" font-weight="bold" textLength="22.59" lengthAdjust="spacingAndGlyphs">C</text>
<text x="1084.97" y="455.60" font-size="33.5" fill="#000" font-weight="bold">1</text>
<text x="1289.79" y="455.60" font-size="33.5" fill="#000" font-weight="bold">2</text>
<text x="1486.09" y="455.60" font-size="33.5" fill="#000" font-weight="bold">1</text>
<text x="1676.91" y="455.60" font-size="33.5" fill="#000" font-weight="bold">2</text>
<text x="949.47" y="503.70" font-size="33.5" fill="#000" font-weight="bold">1</text>
<text x="1027.98" y="503.70" font-size="33.5" fill="#000" textLength="134.24" lengthAdjust="spacingAndGlyphs">8.48E-09</text>
<text x="1231.50" y="503.70" font-size="33.5" fill="#000" textLength="134.18" lengthAdjust="spacingAndGlyphs">6.71E-10</text>
<text x="1428.62" y="503.70" font-size="33.5" fill="#000" textLength="134.73" lengthAdjust="spacingAndGlyphs">2.64E-12</text>
<text x="1618.62" y="503.70" font-size="33.5" fill="#000" textLength="134.73" lengthAdjust="spacingAndGlyphs">2.13E-13</text>
<text x="950.29" y="556.30" font-size="33.5" fill="#000" font-weight="bold">2</text>
<text x="1027.50" y="556.30" font-size="33.5" fill="#000" textLength="134.18" lengthAdjust="spacingAndGlyphs">6.71E-10</text>
<text x="1231.98" y="556.30" font-size="33.5" fill="#000" textLength="134.24" lengthAdjust="spacingAndGlyphs">8.48E-09</text>
<text x="1428.62" y="556.30" font-size="33.5" fill="#000" textLength="134.73" lengthAdjust="spacingAndGlyphs">2.13E-13</text>
<text x="1618.62" y="556.30" font-size="33.5" fill="#000" textLength="134.73" lengthAdjust="spacingAndGlyphs">2.64E-12</text>
<text x="8.79" y="638.00" font-size="33.5" fill="#000" font-family="'Liberation Serif', serif" font-style="italic">Z</text>
<text x="29.88" y="646.70" font-size="19.5" fill="#000" font-family="'Liberation Serif', serif" font-style="italic" textLength="31.27">odd</text>
<text x="72.64" y="640.70" font-size="33.5" fill="#000" font-family="'Liberation Serif', serif" textLength="22.31" lengthAdjust="spacingAndGlyphs" stroke="#000" stroke-width="0.55">=</text>
<path d="M103.1 647.4 L107.5 643.2 L115.6 679.4 L125.1 584.7 L286.8 584.7" fill="none" stroke="#000" stroke-width="1.7" stroke-linejoin="bevel"/>
<path d="M106.9 644.4000000000001 L115.1 676.4" fill="none" stroke="#000" stroke-width="3.3"/>
<text x="155.96" y="617.00" font-size="33.5" fill="#000" font-family="'Liberation Serif', serif" font-style="italic">L</text>
<text x="174.86" y="624.80" font-size="19.5" fill="#000" font-family="'Liberation Serif', serif" font-style="italic" textLength="7.95" lengthAdjust="spacingAndGlyphs">s</text>
<text x="191.73" y="617.60" font-size="33.5" fill="#000" font-family="'Liberation Serif', serif" textLength="20.62" lengthAdjust="spacingAndGlyphs" stroke="#000" stroke-width="0.55">−</text>
<text x="218.86" y="617.00" font-size="33.5" fill="#000" font-family="'Liberation Serif', serif" font-style="italic">L</text>
<text x="236.77" y="624.80" font-size="19.5" fill="#000" font-family="'Liberation Serif', serif" font-style="italic" textLength="15.87" lengthAdjust="spacingAndGlyphs">m</text>
<line x1="127.1" y1="630.4" x2="285" y2="630.4" stroke="#000" stroke-width="1.35"/>
<text x="127.48" y="667.93" font-size="33.5" fill="#000" font-family="'Liberation Serif', serif" textLength="12.81" lengthAdjust="spacingAndGlyphs" transform="translate(0,667.9338804220398) scale(1,1.428) translate(0,-667.9338804220398)">(</text>
<text x="142.30" y="664.60" font-size="33.5" fill="#000" font-family="'Liberation Serif', serif" font-style="italic">C</text>
<text x="165.21" y="672.30" font-size="19.5" fill="#000" font-family="'Liberation Serif', serif" font-style="italic" textLength="8.80" lengthAdjust="spacingAndGlyphs">s</text>
<text x="182.26" y="663.60" font-size="33.5" fill="#000" font-family="'Liberation Serif', serif" textLength="21.18" lengthAdjust="spacingAndGlyphs" stroke="#000" stroke-width="0.55">+</text>
<text x="209.76" y="664.60" font-size="33.5" fill="#000" font-family="'Liberation Serif', serif" textLength="17.48" lengthAdjust="spacingAndGlyphs">2</text>
<text x="226.30" y="664.60" font-size="33.5" fill="#000" font-family="'Liberation Serif', serif" font-style="italic">C</text>
<text x="249.99" y="672.30" font-size="19.5" fill="#000" font-family="'Liberation Serif', serif" font-style="italic" textLength="15.63" lengthAdjust="spacingAndGlyphs">m</text>
<text x="271.85" y="667.93" font-size="33.5" fill="#000" font-family="'Liberation Serif', serif" textLength="13.13" lengthAdjust="spacingAndGlyphs" transform="translate(0,667.9338804220398) scale(1,1.428) translate(0,-667.9338804220398)">)</text>
<text x="295.07" y="640.70" font-size="33.5" fill="#000" font-family="'Liberation Serif', serif" textLength="21.05" lengthAdjust="spacingAndGlyphs" stroke="#000" stroke-width="0.55">=</text>
<path d="M325.2 650.4 L330 645.4 L337.7 682.4 L346.5 584.7 L721.6 584.7" fill="none" stroke="#000" stroke-width="1.7" stroke-linejoin="bevel"/>
<path d="M329.4 646.6 L337.2 679.4" fill="none" stroke="#000" stroke-width="3.3"/>
<text x="397.28" y="617.30" font-size="33.5" fill="#000" font-family="'Liberation Serif', serif" textLength="112.15">7.78E-9</text>
<text x="517.00" y="617.60" font-size="33.5" fill="#000" font-family="'Liberation Serif', serif" textLength="14.78" lengthAdjust="spacingAndGlyphs" stroke="#000" stroke-width="0.55">–</text>
<text x="540.28" y="617.30" font-size="33.5" fill="#000" font-family="'Liberation Serif', serif" textLength="129.76">7.28E-10</text>
<line x1="348.8" y1="630.4" x2="719.5" y2="630.4" stroke="#000" stroke-width="1.35"/>
<text x="349.07" y="669.92" font-size="33.5" fill="#000" font-family="'Liberation Serif', serif" textLength="13.60" lengthAdjust="spacingAndGlyphs" transform="translate(0,669.9171160609612) scale(1,1.599) translate(0,-669.9171160609612)">(</text>
<text x="364.22" y="665.00" font-size="33.5" fill="#000" font-family="'Liberation Serif', serif" textLength="130.14">2.84E-12</text>
<text x="501.48" y="663.20" font-size="28.81" fill="#000" font-family="'Liberation Serif', serif" textLength="17.03" lengthAdjust="spacingAndGlyphs" stroke="#000" stroke-width="0.55">+</text>
<text x="524.35" y="665.00" font-size="33.5" fill="#000" font-family="'Liberation Serif', serif" textLength="18.73" lengthAdjust="spacingAndGlyphs">2</text>
<text x="545.37" y="668.18" font-size="33.5" fill="#000" font-family="'Liberation Serif', serif" textLength="13.60" lengthAdjust="spacingAndGlyphs" transform="translate(0,668.184876905041) scale(1,1.47) translate(0,-668.184876905041)">(</text>
<text x="560.52" y="665.00" font-size="33.5" fill="#000" font-family="'Liberation Serif', serif" textLength="129.23">2.76E-13</text>
<text x="692.56" y="668.18" font-size="33.5" fill="#000" font-family="'Liberation Serif', serif" textLength="12.08" lengthAdjust="spacingAndGlyphs" transform="translate(0,668.184876905041) scale(1,1.47) translate(0,-668.184876905041)">)</text>
<text x="704.52" y="669.92" font-size="33.5" fill="#000" font-family="'Liberation Serif', serif" textLength="14.45" lengthAdjust="spacingAndGlyphs" transform="translate(0,669.9171160609612) scale(1,1.599) translate(0,-669.9171160609612)">)</text>
<text x="728.17" y="640.70" font-size="33.5" fill="#000" font-family="'Liberation Serif', serif" textLength="22.06" lengthAdjust="spacingAndGlyphs" stroke="#000" stroke-width="0.55">=</text>
<text x="758.80" y="638.00" font-size="33.5" fill="#000" font-family="'Liberation Serif', serif" textLength="104.88">45.56Ω</text>
<text x="8.79" y="723.80" font-size="33.5" fill="#000" font-family="'Liberation Serif', serif" font-style="italic">Z</text>
<text x="29.50" y="732.00" font-size="19.5" fill="#000" font-family="'Liberation Serif', serif" font-style="italic" textLength="28.28">diff</text>
<text x="72.64" y="726.40" font-size="33.5" fill="#000" font-family="'Liberation Serif', serif" textLength="22.31" lengthAdjust="spacingAndGlyphs" stroke="#000" stroke-width="0.55">=</text>
<text x="100.90" y="723.80" font-size="33.5" fill="#000" font-family="'Liberation Serif', serif" textLength="18.11" lengthAdjust="spacingAndGlyphs">2</text>
<text x="121.81" y="724.60" font-size="33.5" fill="#000" font-family="'Liberation Serif', serif" textLength="20.01" lengthAdjust="spacingAndGlyphs" stroke="#000" stroke-width="0.55">×</text>
<text x="146.50" y="723.80" font-size="33.5" fill="#000" font-family="'Liberation Serif', serif" textLength="78.13">45.56</text>
<text x="232.27" y="726.40" font-size="33.5" fill="#000" font-family="'Liberation Serif', serif" textLength="21.05" lengthAdjust="spacingAndGlyphs" stroke="#000" stroke-width="0.55">=</text>
<text x="260.06" y="723.80" font-size="33.5" fill="#000" font-family="'Liberation Serif', serif" textLength="107.11">91.12Ω</text>
<g transform="translate(921.9,7.2) scale(0.988,0.991)">
<text x="8.79" y="638.00" font-size="33.5" fill="#000" font-family="'Liberation Serif', serif" font-style="italic">Z</text>
<text x="29.88" y="646.70" font-size="19.5" fill="#000" font-family="'Liberation Serif', serif" font-style="italic" textLength="31.27">odd</text>
<text x="72.64" y="640.70" font-size="33.5" fill="#000" font-family="'Liberation Serif', serif" textLength="22.31" lengthAdjust="spacingAndGlyphs" stroke="#000" stroke-width="0.55">=</text>
<path d="M103.1 647.4 L107.5 643.2 L115.6 679.4 L125.1 584.7 L286.8 584.7" fill="none" stroke="#000" stroke-width="1.7" stroke-linejoin="bevel"/>
<path d="M106.9 644.4000000000001 L115.1 676.4" fill="none" stroke="#000" stroke-width="3.3"/>
<text x="155.96" y="617.00" font-size="33.5" fill="#000" font-family="'Liberation Serif', serif" font-style="italic">L</text>
<text x="174.86" y="624.80" font-size="19.5" fill="#000" font-family="'Liberation Serif', serif" font-style="italic" textLength="7.95" lengthAdjust="spacingAndGlyphs">s</text>
<text x="191.73" y="617.60" font-size="33.5" fill="#000" font-family="'Liberation Serif', serif" textLength="20.62" lengthAdjust="spacingAndGlyphs" stroke="#000" stroke-width="0.55">−</text>
<text x="218.86" y="617.00" font-size="33.5" fill="#000" font-family="'Liberation Serif', serif" font-style="italic">L</text>
<text x="236.77" y="624.80" font-size="19.5" fill="#000" font-family="'Liberation Serif', serif" font-style="italic" textLength="15.87" lengthAdjust="spacingAndGlyphs">m</text>
<line x1="127.1" y1="630.4" x2="285" y2="630.4" stroke="#000" stroke-width="1.35"/>
<text x="127.48" y="667.93" font-size="33.5" fill="#000" font-family="'Liberation Serif', serif" textLength="12.81" lengthAdjust="spacingAndGlyphs" transform="translate(0,667.9338804220398) scale(1,1.428) translate(0,-667.9338804220398)">(</text>
<text x="142.30" y="664.60" font-size="33.5" fill="#000" font-family="'Liberation Serif', serif" font-style="italic">C</text>
<text x="165.21" y="672.30" font-size="19.5" fill="#000" font-family="'Liberation Serif', serif" font-style="italic" textLength="8.80" lengthAdjust="spacingAndGlyphs">s</text>
<text x="182.26" y="663.60" font-size="33.5" fill="#000" font-family="'Liberation Serif', serif" textLength="21.18" lengthAdjust="spacingAndGlyphs" stroke="#000" stroke-width="0.55">+</text>
<text x="209.76" y="664.60" font-size="33.5" fill="#000" font-family="'Liberation Serif', serif" textLength="17.48" lengthAdjust="spacingAndGlyphs">2</text>
<text x="226.30" y="664.60" font-size="33.5" fill="#000" font-family="'Liberation Serif', serif" font-style="italic">C</text>
<text x="249.99" y="672.30" font-size="19.5" fill="#000" font-family="'Liberation Serif', serif" font-style="italic" textLength="15.63" lengthAdjust="spacingAndGlyphs">m</text>
<text x="271.85" y="667.93" font-size="33.5" fill="#000" font-family="'Liberation Serif', serif" textLength="13.13" lengthAdjust="spacingAndGlyphs" transform="translate(0,667.9338804220398) scale(1,1.428) translate(0,-667.9338804220398)">)</text>
<text x="295.07" y="640.70" font-size="33.5" fill="#000" font-family="'Liberation Serif', serif" textLength="21.05" lengthAdjust="spacingAndGlyphs" stroke="#000" stroke-width="0.55">=</text>
<path d="M325.2 650.4 L330 645.4 L337.7 682.4 L346.5 584.7 L721.6 584.7" fill="none" stroke="#000" stroke-width="1.7" stroke-linejoin="bevel"/>
<path d="M329.4 646.6 L337.2 679.4" fill="none" stroke="#000" stroke-width="3.3"/>
<text x="399.07" y="617.30" font-size="33.5" fill="#000" font-family="'Liberation Serif', serif" textLength="111.06">8.48E-9</text>
<text x="516.80" y="617.60" font-size="33.5" fill="#000" font-family="'Liberation Serif', serif" textLength="15.46" lengthAdjust="spacingAndGlyphs" stroke="#000" stroke-width="0.55">–</text>
<text x="540.62" y="617.30" font-size="33.5" fill="#000" font-family="'Liberation Serif', serif" textLength="128.13">6.71E-10</text>
<line x1="348.8" y1="630.4" x2="719.5" y2="630.4" stroke="#000" stroke-width="1.35"/>
<text x="350.49" y="669.92" font-size="33.5" fill="#000" font-family="'Liberation Serif', serif" textLength="13.63" lengthAdjust="spacingAndGlyphs" transform="translate(0,669.9171160609612) scale(1,1.599) translate(0,-669.9171160609612)">(</text>
<text x="364.77" y="665.00" font-size="33.5" fill="#000" font-family="'Liberation Serif', serif" textLength="129.10">2.64E-12</text>
<text x="499.55" y="663.20" font-size="28.81" fill="#000" font-family="'Liberation Serif', serif" textLength="17.54" lengthAdjust="spacingAndGlyphs" stroke="#000" stroke-width="0.55">+</text>
<text x="525.81" y="665.00" font-size="33.5" fill="#000" font-family="'Liberation Serif', serif" textLength="18.33" lengthAdjust="spacingAndGlyphs">2</text>
<text x="547.30" y="668.18" font-size="33.5" fill="#000" font-family="'Liberation Serif', serif" textLength="14.03" lengthAdjust="spacingAndGlyphs" transform="translate(0,668.184876905041) scale(1,1.47) translate(0,-668.184876905041)">(</text>
<text x="561.38" y="665.00" font-size="33.5" fill="#000" font-family="'Liberation Serif', serif" textLength="128.73">2.13E-13</text>
<text x="692.06" y="668.18" font-size="33.5" fill="#000" font-family="'Liberation Serif', serif" textLength="13.29" lengthAdjust="spacingAndGlyphs" transform="translate(0,668.184876905041) scale(1,1.47) translate(0,-668.184876905041)">)</text>
<text x="705.15" y="669.92" font-size="33.5" fill="#000" font-family="'Liberation Serif', serif" textLength="13.96" lengthAdjust="spacingAndGlyphs" transform="translate(0,669.9171160609612) scale(1,1.599) translate(0,-669.9171160609612)">)</text>
<text x="728.17" y="640.70" font-size="33.5" fill="#000" font-family="'Liberation Serif', serif" textLength="22.06" lengthAdjust="spacingAndGlyphs" stroke="#000" stroke-width="0.55">=</text>
<text x="757.80" y="638.00" font-size="33.5" fill="#000" font-family="'Liberation Serif', serif" textLength="105.88">50.45Ω</text>
<text x="8.79" y="725.10" font-size="33.5" fill="#000" font-family="'Liberation Serif', serif" font-style="italic">Z</text>
<text x="29.50" y="733.30" font-size="19.5" fill="#000" font-family="'Liberation Serif', serif" font-style="italic" textLength="28.28">diff</text>
<text x="72.64" y="727.70" font-size="33.5" fill="#000" font-family="'Liberation Serif', serif" textLength="22.31" lengthAdjust="spacingAndGlyphs" stroke="#000" stroke-width="0.55">=</text>
<text x="100.90" y="725.10" font-size="33.5" fill="#000" font-family="'Liberation Serif', serif" textLength="18.11" lengthAdjust="spacingAndGlyphs">2</text>
<text x="121.81" y="725.90" font-size="33.5" fill="#000" font-family="'Liberation Serif', serif" textLength="20.01" lengthAdjust="spacingAndGlyphs" stroke="#000" stroke-width="0.55">×</text>
<text x="146.63" y="725.10" font-size="33.5" fill="#000" font-family="'Liberation Serif', serif" textLength="77.51">50.45</text>
<text x="231.80" y="727.70" font-size="33.5" fill="#000" font-family="'Liberation Serif', serif" textLength="21.05" lengthAdjust="spacingAndGlyphs" stroke="#000" stroke-width="0.55">=</text>
<text x="257.52" y="725.10" font-size="33.5" fill="#000" font-family="'Liberation Serif', serif" textLength="124.17">100.90Ω</text>
</g>
</svg></body></html>
